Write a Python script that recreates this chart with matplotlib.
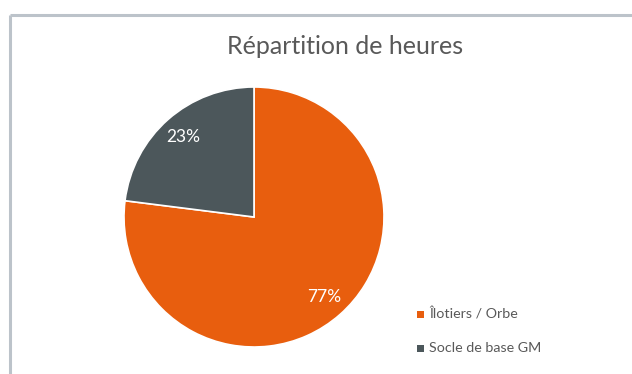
import matplotlib.pyplot as plt
from matplotlib.lines import Line2D
from matplotlib.patches import Rectangle

plt.rcParams['font.family'] = ['Lato', 'DejaVu Sans']

labels = ['Îlotiers / Orbe', 'Socle de base GM']
shares = [77, 23]
colors = ['#E85E0E', '#4C575B']
title = 'Répartition de heures'

fig = plt.figure(figsize=(6.32, 3.74), dpi=100)

# chart frame (top and left edges only)
frame = '#BCC3CA'
fig.add_artist(Line2D([0.0158, 1.0], [0.9586, 0.9586], color=frame, lw=2.2,
                      transform=fig.transFigure, solid_capstyle='butt'))
fig.add_artist(Line2D([0.0158, 0.0158], [0.9586, 0.0], color=frame, lw=2.2,
                      transform=fig.transFigure, solid_capstyle='butt'))

ax = fig.add_axes([124 / 632, 27 / 374, 260 / 632, 260 / 374])
wedges, texts, autotexts = ax.pie(
    shares, colors=colors, startangle=90, counterclock=False,
    autopct='%d%%', pctdistance=0.82,
    wedgeprops=dict(edgecolor='white', linewidth=1.2),
    textprops=dict(color='white', fontsize=12.5))
ax.set_xlim(-1, 1)
ax.set_ylim(-1, 1)
ax.set_aspect('auto')
ax.axis('off')

fig.text(345 / 632, 1 - 46 / 374, title, ha='center', va='center',
         fontsize=18, color='#595959')

# legend drawn by hand on the lower right
for i, (lab, col) in enumerate(zip(labels, colors)):
    y = 1 - (314 + 34 * i) / 374
    fig.add_artist(Rectangle((417 / 632, y - 3.5 / 374), 7 / 632, 7 / 374,
                             facecolor=col, edgecolor='none',
                             transform=fig.transFigure))
    fig.text(429 / 632, y, lab, ha='left', va='center', fontsize=10.3,
             color='#595959')

fig.savefig('out.png', dpi=100)
